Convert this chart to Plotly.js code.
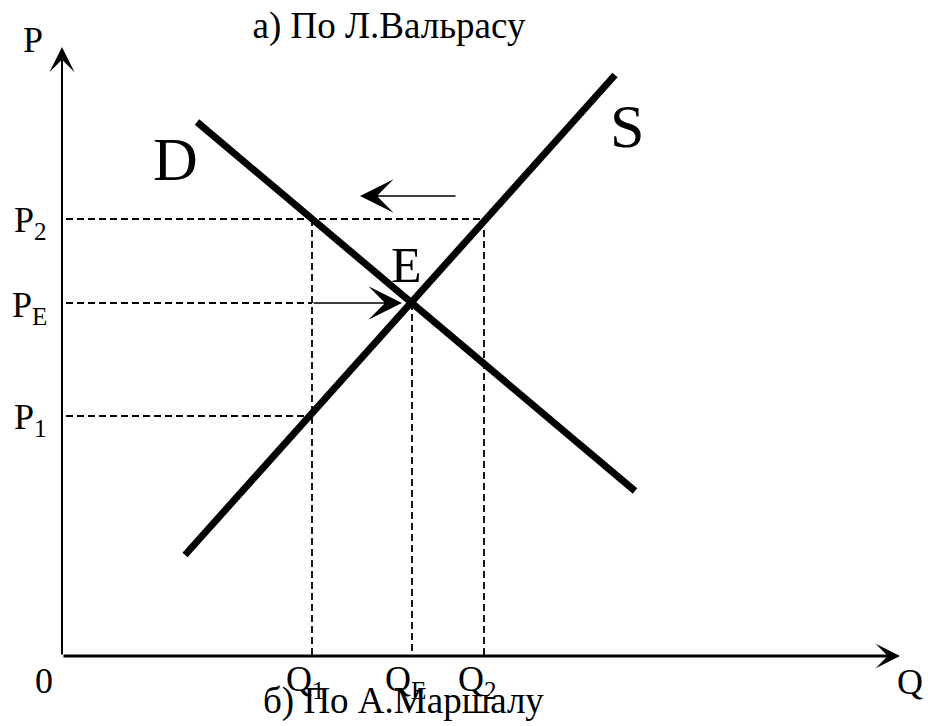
<!DOCTYPE html>
<html><head><meta charset="utf-8">
<script src="https://cdn.plot.ly/plotly-3.0.1.min.js"></script>
<style>html,body{margin:0;padding:0;background:#fff}#chart{width:928px;height:726px}</style>
</head><body><div id="chart"></div>
<script>
// Quantity levels: Q1, QE, Q2
const qLevels = [25, 35, 42.2];
const qLabels = ['Q<sub>1</sub>', 'Q<sub>E</sub>', 'Q<sub>2</sub>'];
// Price levels: P1, PE, P2
const pLevels = [24, 35.3, 43.7];
const pLabels = ['P<sub>1</sub>', 'P<sub>E</sub>', 'P<sub>2</sub>'];
// Demand curve D (end points)
const demandQ = [13.5, 57.3];
const demandP = [53.4, 16.5];
// Supply curve S (end points)
const supplyQ = [12.3, 55.3];
const supplyP = [10.1, 58.1];
// Axis extents (Q, P)
const axisMax = [83.8, 60.9];
// Walras adjustment arrow (quantity from -> to, at price level)
const walrasArrowQ = [39.5, 29.8];
const walrasArrowP = 46;
// Marshall adjustment arrow (from Q1 towards E at PE)
const marshallArrowQ = [25, 34.0];

const X_RANGE = [0, 84], Y_RANGE = [0, 61];
const FONT = 'Liberation Serif';
const BLACK = '#000';

const traces = [];
function dashed(xs, ys) {
  traces.push({x: xs, y: ys, mode: 'lines', type: 'scatter', hoverinfo: 'skip',
    line: {color: BLACK, width: 1.8, dash: '7px,4px'}, showlegend: false});
}
const [Q1, QE, Q2] = qLevels;
const [P1, PE, P2] = pLevels;
dashed([0.4, Q2], [P2, P2]);
dashed([0.4, Q1], [P1, P1]);
dashed([0.4, marshallArrowQ[0]], [PE, PE]);
dashed([Q1, Q1], [P2, 0]);
dashed([Q2, Q2], [P2, 0]);
dashed([QE, QE], [PE, 0]);

traces.push({x: demandQ, y: demandP, mode: 'lines', type: 'scatter', name: 'D',
  line: {color: BLACK, width: 7}, showlegend: false});
traces.push({x: supplyQ, y: supplyP, mode: 'lines', type: 'scatter', name: 'S',
  line: {color: BLACK, width: 7}, showlegend: false});

const ann = [];
function arrow(x, y, ax, ay, w, size) {
  ann.push({x: x, y: y, ax: ax, ay: ay, xref: 'x', yref: 'y', axref: 'x', ayref: 'y',
    text: '', showarrow: true, arrowhead: 3, arrowwidth: w, arrowsize: size, arrowcolor: BLACK});
}
arrow(axisMax[0], 0, 0, 0, 3, 1.35);
arrow(0, axisMax[1], 0, 0, 2, 2.1);
arrow(walrasArrowQ[1], walrasArrowP, walrasArrowQ[0], walrasArrowP, 1.6, 3.5);
arrow(marshallArrowQ[1], PE, marshallArrowQ[0], PE, 1.6, 3.5);

// labels are positioned in paper units derived from the axis ranges so they may sit outside the plot
function label(text, x, y, size, xanchor) {
  ann.push({x: x / X_RANGE[1], y: y / Y_RANGE[1], xref: 'paper', yref: 'paper', text: text, showarrow: false,
    xanchor: xanchor || 'center', yanchor: 'middle',
    font: {family: FONT, size: size, color: BLACK}});
}
pLabels.forEach((t, i) => label(t, -1.3, pLevels[i] - 0.4, 36, 'right'));
qLabels.forEach((t, i) => label(t, qLevels[i] - 0.7, -2.5, 36));
label('0', -1.8, -2.5, 36);
label('P', -2.9, 61.6, 36);
label('Q', 84.8, -2.6, 36);
label('D', 11.3, 49.7, 62);
label('S', 56.5, 53.0, 62);
label('E', 34.4, 39.1, 50);
label('б) По А.Маршалу', 34.1, -4.5, 37);

const layout = {
  width: 928, height: 726,
  margin: {l: 62, r: 26, t: 46, b: 70},
  paper_bgcolor: '#fff', plot_bgcolor: '#fff',
  title: {text: 'а) По Л.Вальрасу', x: (389 - 62) / 840, xanchor: 'center', xref: 'paper',
    y: 1 - 25 / 726, yref: 'container', yanchor: 'middle',
    font: {family: FONT, size: 37, color: BLACK}},
  xaxis: {range: X_RANGE, visible: false, fixedrange: true},
  yaxis: {range: Y_RANGE, visible: false, fixedrange: true},
  annotations: ann,
  showlegend: false
};
Plotly.newPlot('chart', traces, layout, {displayModeBar: false, staticPlot: true});
</script>
</body></html>
